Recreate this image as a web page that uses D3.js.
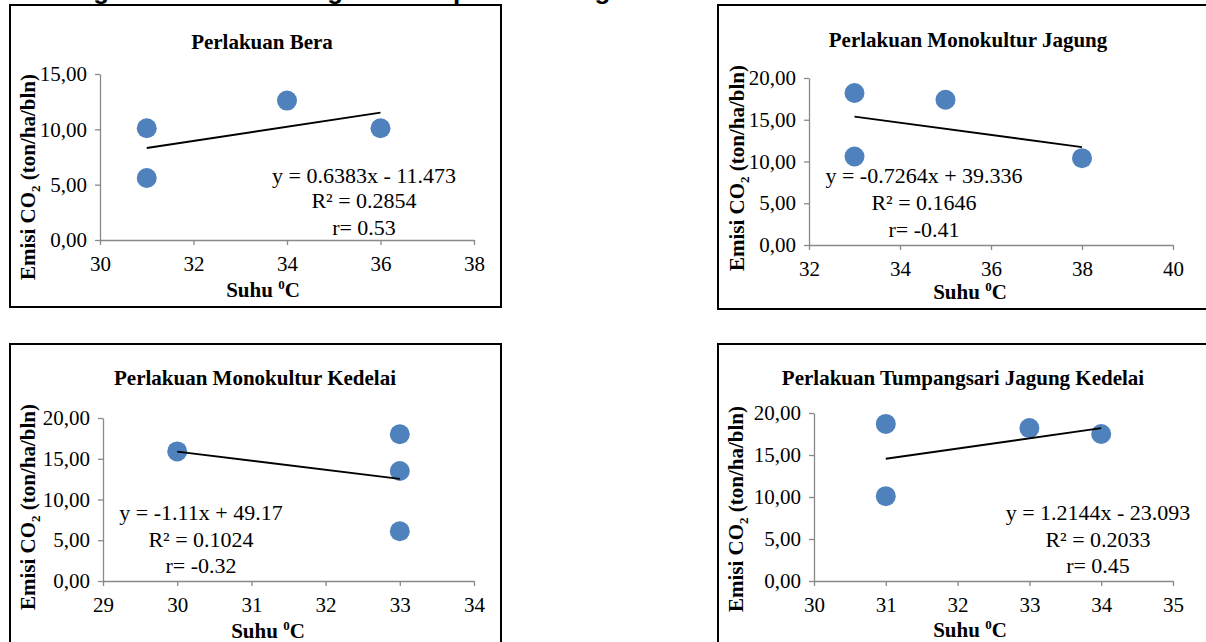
<!DOCTYPE html>
<html>
<head>
<meta charset="utf-8">
<script src="https://cdn.jsdelivr.net/npm/d3@7/dist/d3.min.js"></script>
<style>
  html, body { margin: 0; padding: 0; background: #fff; }
  svg { display: block; }
  .tick text { font-family: 'Liberation Serif', 'Times New Roman', serif; }
</style>
</head>
<body>
<svg id="chart" width="1206" height="642"></svg>
<script>
// ---------------- DATA ----------------
const headingText = "Hubungan Emisi CO₂ dengan Suhu pada Berbagai Perlakuan";
const titles = ["Perlakuan Bera", "Perlakuan Monokultur Jagung", "Perlakuan Monokultur Kedelai", "Perlakuan Tumpangsari Jagung Kedelai"];

const beraSuhu = [31, 31, 34, 36];
const beraEmisi = [10.1, 5.6, 12.6, 10.1];
const jagungSuhu = [33, 33, 35, 38];
const jagungEmisi = [18.2, 10.6, 17.4, 10.4];
const kedelaiSuhu = [30, 33, 33, 33];
const kedelaiEmisi = [15.9, 18.0, 13.5, 6.1];
const tumpangSuhu = [31, 31, 33, 34];
const tumpangEmisi = [18.7, 10.1, 18.2, 17.5];

const slopes = [0.6383, -0.7264, -1.11, 1.2144];
const intercepts = [-11.473, 39.336, 49.17, -23.093];
const equations = ["y = 0.6383x - 11.473", "y = -0.7264x + 39.336", "y = -1.11x + 49.17", "y = 1.2144x - 23.093"];
const rSquared = ["R² = 0.2854", "R² = 0.1646", "R² = 0.1024", "R² = 0.2033"];
const rValues = ["r= 0.53", "r= -0.41", "r= -0.32", "r= 0.45"];

const xTicks1 = [30, 32, 34, 36, 38];
const xTicks2 = [32, 34, 36, 38, 40];
const xTicks3 = [29, 30, 31, 32, 33, 34];
const xTicks4 = [30, 31, 32, 33, 34, 35];
const yTicks1 = [0, 5, 10, 15];
const yTicks2 = [0, 5, 10, 15, 20];

const xTitle = "Suhu";
const yTitle = "Emisi CO";

// ---------------- LAYOUT ----------------
const panels = [
  { xs: beraSuhu, ys: beraEmisi, xt: xTicks1, yt: yTicks1,
    box: [10, 5, 491, 302], xr: [100, 474], yr: [240, 74],
    title: [262, 49], eq: [364, 183, 208, 235], xTitle: [263, 297], yTitle: [35, 177] },
  { xs: jagungSuhu, ys: jagungEmisi, xt: xTicks2, yt: yTicks2,
    box: [718, 5, 500, 304], xr: [809, 1173], yr: [245, 78],
    title: [968, 47], eq: [924, 183, 210, 237], xTitle: [970, 299], yTitle: [744, 168] },
  { xs: kedelaiSuhu, ys: kedelaiEmisi, xt: xTicks3, yt: yTicks2,
    box: [10, 344, 491, 310], xr: [103, 474], yr: [581, 418],
    title: [255, 385], eq: [201, 520, 547, 573], xTitle: [268, 638], yTitle: [35, 507] },
  { xs: tumpangSuhu, ys: tumpangEmisi, xt: xTicks4, yt: yTicks2,
    box: [718, 344, 500, 310], xr: [814, 1173], yr: [581, 413],
    title: [963, 385], eq: [1098, 520, 547, 573], xTitle: [970, 637], yTitle: [743, 509] }
];

const SERIF = "'Liberation Serif', 'Times New Roman', serif";
const AXIS_COLOR = "#898989";
const MARK_COLOR = "#4f81bd";
const fmtY = v => d3.format(".2f")(v).replace(".", ",");

const svg = d3.select("#chart");

// cropped heading at the top
svg.append("text")
  .attr("x", 11).attr("y", -1)
  .attr("font-family", "'Liberation Sans', Arial, sans-serif")
  .attr("font-weight", "bold").attr("font-size", 26)
  .attr("fill", "#000")
  .text(headingText);

panels.forEach((p, i) => {
  const g = svg.append("g");

  // frame
  g.append("rect")
    .attr("x", p.box[0]).attr("y", p.box[1])
    .attr("width", p.box[2]).attr("height", p.box[3])
    .attr("fill", "#fff").attr("stroke", "#000").attr("stroke-width", 2);

  const x = d3.scaleLinear().domain([p.xt[0], p.xt[p.xt.length - 1]]).range(p.xr);
  const y = d3.scaleLinear().domain([p.yt[0], p.yt[p.yt.length - 1]]).range(p.yr);

  // y axis
  const ya = g.append("g").attr("transform", `translate(${p.xr[0]},0)`)
    .call(d3.axisLeft(y).tickValues(p.yt).tickFormat(fmtY).tickSize(5).tickSizeOuter(0).tickPadding(8));
  // x axis
  const xa = g.append("g").attr("transform", `translate(0,${p.yr[0]})`)
    .call(d3.axisBottom(x).tickValues(p.xt).tickFormat(d3.format("d")).tickSize(5).tickSizeOuter(0).tickPadding(11));

  [ya, xa].forEach(a => {
    a.attr("font-family", SERIF).attr("font-size", 21);
    a.select(".domain").attr("stroke", AXIS_COLOR).attr("stroke-width", 1.3);
    a.selectAll(".tick line").attr("stroke", AXIS_COLOR).attr("stroke-width", 1.3);
    a.selectAll(".tick text")
      .attr("font-family", SERIF).attr("font-size", 21).attr("fill", "#000");
  });

  // title
  g.append("text")
    .attr("x", p.title[0]).attr("y", p.title[1])
    .attr("text-anchor", "middle")
    .attr("font-family", SERIF).attr("font-weight", "bold").attr("font-size", 21)
    .text(titles[i]);

  // points
  const pts = p.xs.map((v, k) => [v, p.ys[k]]);
  g.selectAll("circle.pt").data(pts).enter().append("circle")
    .attr("class", "pt")
    .attr("cx", d => x(d[0])).attr("cy", d => y(d[1]))
    .attr("r", 10).attr("fill", MARK_COLOR);

  // trend line
  const x0 = d3.min(p.xs), x1 = d3.max(p.xs);
  const f = v => slopes[i] * v + intercepts[i];
  g.append("line")
    .attr("x1", x(x0)).attr("y1", y(f(x0)))
    .attr("x2", x(x1)).attr("y2", y(f(x1)))
    .attr("stroke", "#000").attr("stroke-width", 1.8);

  // equation labels
  [equations[i], rSquared[i], rValues[i]].forEach((t, k) => {
    g.append("text")
      .attr("x", p.eq[0]).attr("y", p.eq[k + 1])
      .attr("text-anchor", "middle")
      .attr("font-family", SERIF).attr("font-size", 22)
      .text(t);
  });

  // x axis title
  const xtt = g.append("text")
    .attr("x", p.xTitle[0]).attr("y", p.xTitle[1])
    .attr("text-anchor", "middle")
    .attr("font-family", SERIF).attr("font-weight", "bold").attr("font-size", 21);
  xtt.append("tspan").text(xTitle + " ");
  xtt.append("tspan").attr("font-size", 13).attr("dy", -8).text("0");
  xtt.append("tspan").attr("dy", 8).text("C");

  // y axis title
  const ytt = g.append("text")
    .attr("transform", `translate(${p.yTitle[0]},${p.yTitle[1]}) rotate(-90)`)
    .attr("text-anchor", "middle")
    .attr("font-family", SERIF).attr("font-weight", "bold").attr("font-size", 21);
  ytt.append("tspan").text(yTitle);
  ytt.append("tspan").attr("font-size", 13).attr("dy", 5).text("2");
  ytt.append("tspan").attr("dy", -5).text(" (ton/ha/bln)");
});
</script>
</body>
</html>
